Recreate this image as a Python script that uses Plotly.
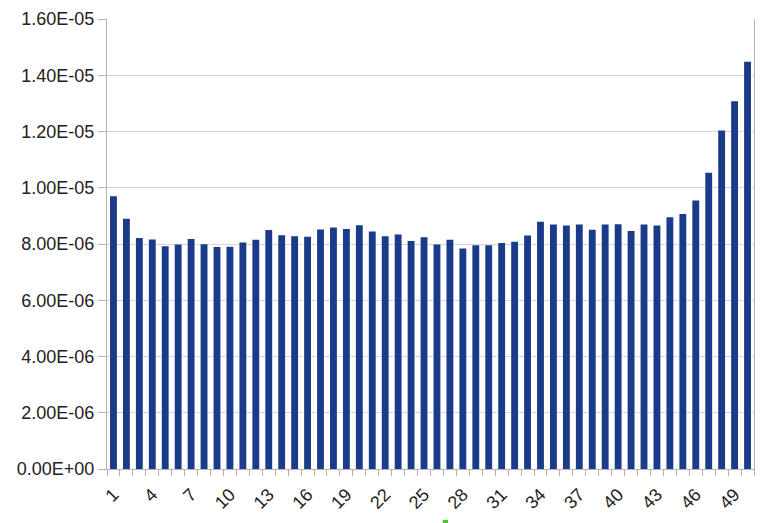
import plotly.graph_objects as go

categories = list(range(1, 51))
values = [
    9.70e-6, 8.90e-6, 8.21e-6, 8.16e-6, 7.92e-6, 7.98e-6, 8.18e-6, 7.99e-6, 7.89e-6, 7.90e-6,
    8.05e-6, 8.15e-6, 8.50e-6, 8.31e-6, 8.28e-6, 8.26e-6, 8.52e-6, 8.59e-6, 8.53e-6, 8.67e-6,
    8.44e-6, 8.28e-6, 8.34e-6, 8.11e-6, 8.24e-6, 7.98e-6, 8.15e-6, 7.84e-6, 7.96e-6, 7.96e-6,
    8.04e-6, 8.08e-6, 8.30e-6, 8.79e-6, 8.69e-6, 8.66e-6, 8.69e-6, 8.51e-6, 8.69e-6, 8.70e-6,
    8.46e-6, 8.69e-6, 8.66e-6, 8.95e-6, 9.07e-6, 9.55e-6, 10.53e-6, 12.04e-6, 13.08e-6, 14.48e-6,
]
x_tick_vals = list(range(1, 51, 3))
x_tick_text = [str(v) for v in x_tick_vals]
y_tick_vals = [i * 2e-6 for i in range(9)]
y_tick_text = [f"{v:.2E}" for v in y_tick_vals]

FONT = "Liberation Sans, Arial, sans-serif"

fig = go.Figure(
    go.Bar(x=categories, y=values, marker=dict(color="#1a3a8a", line=dict(width=0)))
)
fig.update_layout(
    width=760, height=515,
    margin=dict(l=99, r=14, t=11, b=54, autoexpand=False),
    paper_bgcolor="white", plot_bgcolor="white",
    bargap=0.47,
    showlegend=False,
    font=dict(family=FONT, size=18, color="#222222"),
    shapes=[
        dict(type="rect", xref="paper", yref="paper", x0=0.519, x1=0.527, y0=-0.113, y1=-0.125,
             fillcolor="#44cc22", line=dict(width=0)),
    ],
)
fig.update_xaxes(
    range=[0.5, 50.5],
    tickmode="array", tickvals=x_tick_vals, ticktext=x_tick_text,
    tickangle=-45, ticks="", showgrid=False, ticklabelstandoff=7,
    showline=True, linecolor="#b3b3b3", linewidth=1,
    minor=dict(tick0=0.5, dtick=1, ticks="outside", ticklen=6, tickcolor="#b3b3b3", showgrid=False),
    zeroline=False, automargin=False,
)
fig.update_yaxes(
    range=[0, 1.6e-5],
    tickmode="array", tickvals=y_tick_vals, ticktext=y_tick_text,
    ticks="outside", ticklen=8, tickcolor="#b3b3b3",
    showgrid=True, gridcolor="#d6d6d6", gridwidth=1,
    showline=True, linecolor="#b3b3b3", linewidth=1, mirror=True,
    zeroline=False, automargin=False,
)
fig.write_html("out.html")
